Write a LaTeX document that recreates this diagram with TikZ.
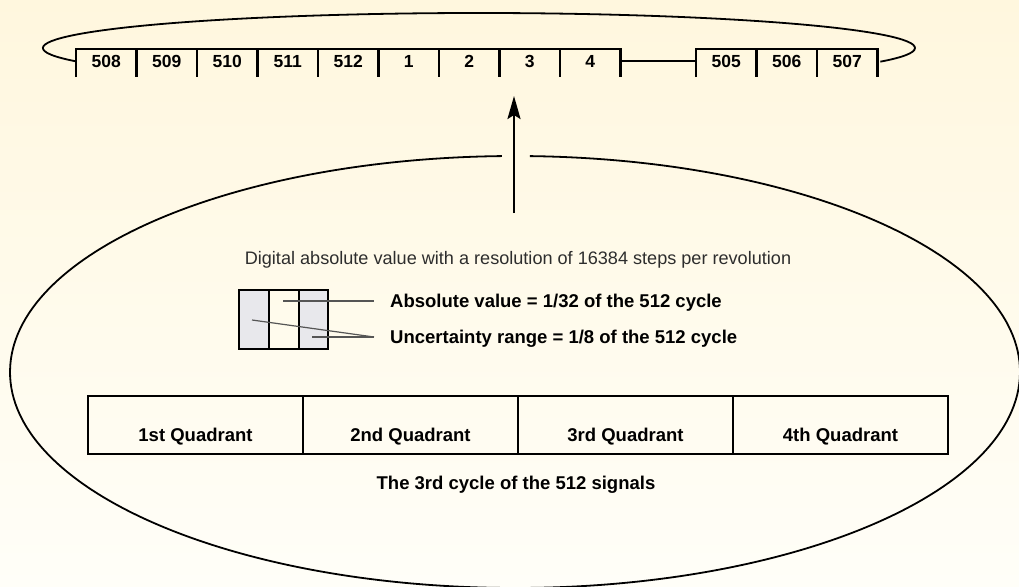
\documentclass[tikz,border=0pt]{standalone}
\usepackage{fontspec}
\setmainfont{Liberation Sans}
\usetikzlibrary{arrows.meta}
\definecolor{bgtop}{RGB}{255,247,222}
\definecolor{bgbot}{RGB}{255,254,248}
\definecolor{cellgray}{RGB}{232,232,236}
\definecolor{leadgray}{RGB}{85,85,85}
\definecolor{txtgray}{RGB}{45,45,45}
\tikzset{
  strip/.style={line width=2.4pt},
  loopline/.style={line width=1.8pt},
  cellnum/.style={font=\fontsize{17.5}{20}\selectfont\bfseries, inner sep=0pt, anchor=base},
  quadtxt/.style={font=\fontsize{18.5}{22}\selectfont\bfseries, inner sep=0pt, anchor=base},
  boldtxt/.style={font=\fontsize{18.5}{22}\selectfont\bfseries, inner sep=0pt},
  lighttxt/.style={font=\fontsize{18.1}{21}\selectfont, text=txtgray, inner sep=0pt, anchor=base},
  leader/.style={draw=leadgray, line width=1.2pt},
  boxline/.style={line width=2.4pt},
}
\begin{document}
\begin{tikzpicture}[x=1pt,y=-1pt]
\useasboundingbox (0,0) rectangle (1019,586);
\clip (0,0) rectangle (1019,586);
\shade[top color=bgtop, bottom color=bgbot] (0,0) rectangle (1019,586);

% top loop
\draw[loopline] ([shift={(157.5:436 and 35)}]479,48) arc[start angle=157.5, end angle=383, x radius=436, y radius=35];

% top strip
\draw[strip] (76,77) -- (76,49) -- (620.5,49) -- (620.5,77);
\foreach \x in {136.5,197,257.5,318,378.5,439,499.5,560} \draw[strip] (\x,49) -- (\x,77);
\draw[strip] (620.5,61) -- (696,61);
\draw[strip] (696,77) -- (696,49) -- (877.5,49) -- (877.5,77);
\draw[strip] (756.5,49) -- (756.5,77);
\draw[strip] (817,49) -- (817,77);
\foreach \t/\x in {508/106.25,509/166.75,510/227.25,511/287.75,512/348.25,1/408.75,2/469.25,3/529.75,4/590.25,505/726.25,506/786.75,507/847.25}
  \node[cellnum] (c\t) at (\x,67.5) {\t};

% big ellipse with gap
\draw[loopline] ([shift={(271.7:505 and 216)}]515,372) arc[start angle=271.7, end angle=628.5, x radius=505, y radius=216];

% arrow
\coordinate (afoot) at (514,213);
\coordinate (atip) at (514,96);
\draw[line width=2.4pt, -{Stealth[length=23pt,width=13pt,inset=4pt]}] (afoot) -- (atip);

% description
\node[lighttxt] (desc) at (518,264.5) {Digital absolute value with a resolution of 16384 steps per revolution};

% small box
\fill[cellgray] (239,290) rectangle (268.5,349);
\fill[cellgray] (298.5,290) rectangle (328,349);
\draw[boxline] (239,290) rectangle (328,349);
\draw[line width=2pt] (268.5,290) -- (268.5,349);
\draw[line width=2pt] (298.5,290) -- (298.5,349);

\node[boldtxt, anchor=base west] (absv) at (390,307.6) {Absolute value = 1/32 of the 512 cycle};
\node[boldtxt, anchor=base west] (unc) at (390,343.6) {Uncertainty range = 1/8 of the 512 cycle};
\coordinate (absin) at (283,301);
\coordinate (uncA) at (252,320);
\coordinate (uncB) at (312,337);
\coordinate (uncJ) at (374,337);
\draw[leader] (absin) -- (374,301);
\draw[leader] (uncA) -- (uncJ);
\draw[leader] (uncB) -- (uncJ);

% quadrants
\draw[boxline] (88,396) rectangle (948,454);
\foreach \x in {303,518,733} \draw[line width=2pt] (\x,396) -- (\x,454);
\node[quadtxt] (q1) at (195.5,441) {1st Quadrant};
\node[quadtxt] (q2) at (410.5,441) {2nd Quadrant};
\node[quadtxt] (q3) at (625.5,441) {3rd Quadrant};
\node[quadtxt] (q4) at (840.5,441) {4th Quadrant};

\node[boldtxt, anchor=base] (cyc) at (516,489.6) {The 3rd cycle of the 512 signals};
\end{tikzpicture}
\end{document}
